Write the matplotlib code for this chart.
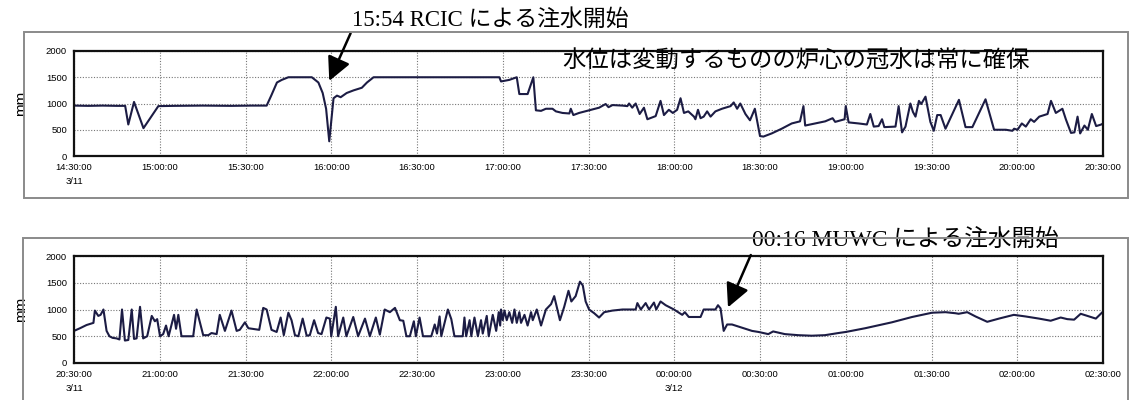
import matplotlib
matplotlib.use("Agg")
import matplotlib.pyplot as plt
from matplotlib.patches import Rectangle

plt.rcParams["font.family"] = ["Liberation Sans", "Noto Sans CJK JP"]

# ---------------------------------------------------------------------------
# Data (minutes from panel start, water level mm)
# ---------------------------------------------------------------------------

top_min = [0, 5, 10, 15, 17.9, 19, 21, 24.3, 29.5, 35, 45, 55, 62, 67.4,
           69, 71, 72.7, 75, 83.2, 85.5, 87, 88.2, 89.3, 90.8, 92, 93.3,
           95.4, 97.8, 100.7, 102.5, 104.8, 120, 135, 148.8, 149.4, 152.3,
           154.9, 155.8, 158.7, 160.7, 161.6, 163.4, 165.1, 167.4, 168.6,
           170.9, 173.3, 173.8, 174.7, 176.7, 180.2, 183.7, 186, 187, 188.4,
           191.9, 193.6, 194.2, 195.3, 196.5, 197.9, 199.4, 200.6, 203.5,
           205.2, 206.4, 208.1, 209.5, 211, 212.2, 213.4, 214.9, 216.9,
           217.4, 218.3, 219.2, 220.3, 221.5, 222.7, 224.4, 226.7, 229.7,
           230.8, 232, 233.1, 234.9, 236.5, 238.2, 240, 241.2, 244.1, 247.6,
           251.1, 254, 255.2, 255.8, 259.3, 262.8, 264.6, 265.4, 266.3,
           269.6, 270, 271, 274.5, 277.4, 278.6, 279.8, 281.5, 282.7, 283.5,
           287.4, 288.5, 289.7, 290.9, 292.6, 293.5, 294.4, 295.6, 296.4,
           297.9, 299.6, 300.8, 302, 303.2, 304.9, 309.6, 311.9, 314.3,
           318.9, 321.9, 326, 328.3, 328.9, 330.1, 331.6, 333, 334.7, 335.9,
           337.7, 340.6, 341.8, 343.5, 345.8, 347, 348.8, 350, 351.1, 352,
           353.5, 354.7, 356.1, 357.6, 359.4, 360]
top_mm = [960, 955, 960, 955, 955, 600, 1030, 530, 950, 955, 960, 955, 960,
          960, 1150, 1400, 1450, 1500, 1500, 1400, 1200, 900, 280, 1100,
          1150, 1120, 1200, 1250, 1300, 1400, 1500, 1500, 1500, 1500, 1420,
          1450, 1500, 1180, 1180, 1500, 870, 860, 900, 900, 850, 820, 810,
          900, 780, 820, 870, 920, 990, 930, 970, 960, 950, 1000, 920, 1000,
          800, 920, 700, 760, 1050, 780, 880, 820, 880, 1100, 820, 850, 750,
          700, 880, 720, 750, 850, 750, 850, 900, 950, 1020, 900, 1000, 800,
          680, 900, 380, 370, 430, 520, 620, 660, 950, 580, 620, 660, 700,
          720, 650, 700, 950, 640, 620, 600, 800, 560, 570, 700, 550, 560,
          950, 450, 560, 1000, 840, 750, 1050, 990, 1130, 650, 480, 780, 780,
          520, 1070, 550, 550, 1080, 500, 500, 480, 520, 500, 620, 560, 700,
          650, 750, 800, 1050, 820, 900, 700, 440, 450, 750, 430, 580, 500,
          800, 570, 600, 620]

bot_min = [0, 2.1, 4.4, 6.2, 6.8, 7.3, 8.5, 9.3, 10.3, 11.4, 12.4, 13.5,
           14.9, 15.9, 16.8, 17.8, 19, 20.2, 21, 21.9, 23.1, 24.2, 25.6, 27.2,
           28.3, 29.1, 30.1, 31.2, 32.2, 33.1, 35, 35.7, 36.5, 37.6, 41.7,
           42.9, 45.2, 47, 48.1, 49.9, 51, 52.8, 55.1, 56.9, 58, 59.8, 61,
           64.8, 66.2, 67.4, 69.1, 70.9, 72.3, 73.4, 75, 76.1, 77.3, 78.5, 80,
           81.4, 82.5, 84, 85.4, 86.6, 88.3, 89.5, 90, 91.6, 92.4, 94.2, 95.3,
           97.7, 99.4, 101.8, 103.5, 105.6, 107, 108.7, 110.5, 112.3, 114,
           115.2, 116.3, 117.5, 118.9, 119.6, 120.9, 122.1, 125, 126.2, 127,
           127.9, 128.5, 130.8, 132, 133.1, 134.3, 136, 136.6, 137.2, 138.4,
           139, 140.1, 141.3, 142.4, 143, 144.4, 145.1, 146.5, 147.7, 148.6,
           149.1, 149.4, 150, 150.6, 151.4, 152.3, 153.3, 154.1, 154.9, 155.8,
           156.4, 157.6, 158.7, 159.9, 160.5, 161.9, 163.4, 165.1, 166.9, 168,
           170, 171.5, 173, 174, 175.5, 177, 178, 179, 180.2, 182, 183.7,
           185.5, 188.4, 191.9, 195.3, 196.5, 197.1, 198.3, 200, 201.2, 202.9,
           203.7, 205.2, 207, 209.9, 212.8, 213.7, 215.1, 219.2, 220.3, 224.4,
           225.3, 226.2, 227.3, 228.5, 230.2, 233.7, 237.2, 239.5, 242.9,
           244.6, 248.7, 253.4, 258.1, 262.7, 267.4, 270, 276.8, 286.1, 293.2,
           300.2, 304.9, 308.4, 309.5, 312.5, 315.4, 319.5, 323.6, 328.8,
           332.9, 337.6, 341.7, 345.2, 347.5, 349.9, 352.2, 354.5, 357.5,
           359.8]
bot_mm = [600, 650, 710, 740, 750, 980, 880, 900, 1000, 600, 500, 470, 460,
          440, 1000, 420, 430, 1000, 450, 460, 1050, 460, 500, 880, 780, 820,
          500, 540, 700, 500, 900, 640, 900, 500, 500, 1000, 520, 520, 560,
          540, 900, 600, 980, 600, 620, 760, 650, 620, 1030, 1000, 620, 580,
          850, 520, 940, 800, 520, 500, 830, 510, 520, 800, 560, 540, 850,
          830, 500, 1050, 500, 850, 500, 860, 500, 830, 500, 850, 530, 1000,
          950, 1030, 800, 790, 500, 500, 780, 500, 850, 500, 500, 720, 550,
          870, 500, 1000, 820, 500, 500, 500, 850, 500, 800, 500, 850, 500,
          800, 550, 880, 500, 900, 600, 950, 700, 1000, 800, 980, 800, 950,
          750, 1000, 750, 950, 750, 900, 700, 950, 800, 1000, 700, 1000, 1100,
          1250, 800, 1050, 1350, 1150, 1250, 1520, 1450, 1150, 1000, 930, 850,
          950, 980, 1000, 1000, 1000, 1120, 1000, 1120, 1000, 1130, 1000, 1150,
          1080, 1000, 900, 950, 860, 860, 1000, 1000, 1080, 1020, 600, 720,
          720, 660, 600, 580, 540, 590, 540, 520, 510, 520, 560, 580, 650, 760,
          860, 940, 950, 930, 920, 950, 870, 770, 830, 900, 870, 830, 790, 850,
          820, 810, 920, 880, 830, 950]

top_ticks = ["14:30:00\n3/11", "15:00:00", "15:30:00", "16:00:00", "16:30:00",
             "17:00:00", "17:30:00", "18:00:00", "18:30:00", "19:00:00",
             "19:30:00", "20:00:00", "20:30:00"]
bot_ticks = ["20:30:00\n3/11", "21:00:00", "21:30:00", "22:00:00", "22:30:00",
             "23:00:00", "23:30:00", "00:00:00\n3/12", "00:30:00", "01:00:00",
             "01:30:00", "02:00:00", "02:30:00"]
y_ticks = [0, 500, 1000, 1500, 2000]

LINE = "#1c1c44"


def style_axes(ax, labels):
    ax.set_xlim(0, 360)
    ax.set_ylim(0, 2000)
    ax.set_xticks(range(0, 361, 30))
    ax.set_xticklabels(labels, fontsize=6.8, linespacing=1.7)
    ax.set_yticks(y_ticks)
    ax.set_yticklabels([str(v) for v in y_ticks], fontsize=6.8)
    ax.tick_params(length=0, pad=5)
    ax.grid(True, linestyle=(0, (1, 1.5)), color="#777777", linewidth=0.8)
    for s in ax.spines.values():
        s.set_linewidth(1.6)
        s.set_color("#111111")
    ax.set_ylabel("mm", fontsize=11, labelpad=13)


fig = plt.figure(figsize=(11.31, 4), dpi=100)

# outer frames of the scanned panels
fig.add_artist(Rectangle((24 / 1131, 1 - 198 / 400), 1104 / 1131, 166 / 400,
                         transform=fig.transFigure, fill=False,
                         edgecolor="#8a8a8a", linewidth=1.4))
fig.add_artist(Rectangle((23 / 1131, -0.01), 1105 / 1131, 1 - 238 / 400 + 0.01,
                         transform=fig.transFigure, fill=False,
                         edgecolor="#8a8a8a", linewidth=1.4))

ax1 = fig.add_axes([74 / 1131, 1 - 156 / 400, 1029 / 1131, 105 / 400])
ax1.plot(top_min, top_mm, color=LINE, linewidth=1.5)
style_axes(ax1, top_ticks)

ax2 = fig.add_axes([74 / 1131, 1 - 363 / 400, 1029 / 1131, 107 / 400])
ax2.plot(bot_min, bot_mm, color=LINE, linewidth=1.5)
style_axes(ax2, bot_ticks)

# annotations
ann_font = ["Liberation Serif", "Noto Sans CJK JP"]
arrow = dict(arrowstyle="-|>,head_length=0.9,head_width=0.45", color="black",
             lw=1.8, mutation_scale=16, shrinkA=0, shrinkB=0, relpos=(0, 0))
ax1.annotate("15:54 RCIC による注水開始", xy=(89.3, 1430), xytext=(97.2, 2390),
             textcoords="data", fontsize=16.5, family=ann_font,
             ha="left", va="bottom", annotation_clip=False, arrowprops=arrow)
ax1.text(171, 1800, "水位は変動するものの炉心の冠水は常に確保",
         fontsize=16.8, family=["Noto Sans CJK JP"], ha="left", va="center")
ax2.annotate("00:16 MUWC による注水開始", xy=(228.8, 1040), xytext=(237.2, 2070),
             textcoords="data", fontsize=17, family=ann_font,
             ha="left", va="bottom", annotation_clip=False, arrowprops=arrow)

fig.savefig("out.png", dpi=100)
